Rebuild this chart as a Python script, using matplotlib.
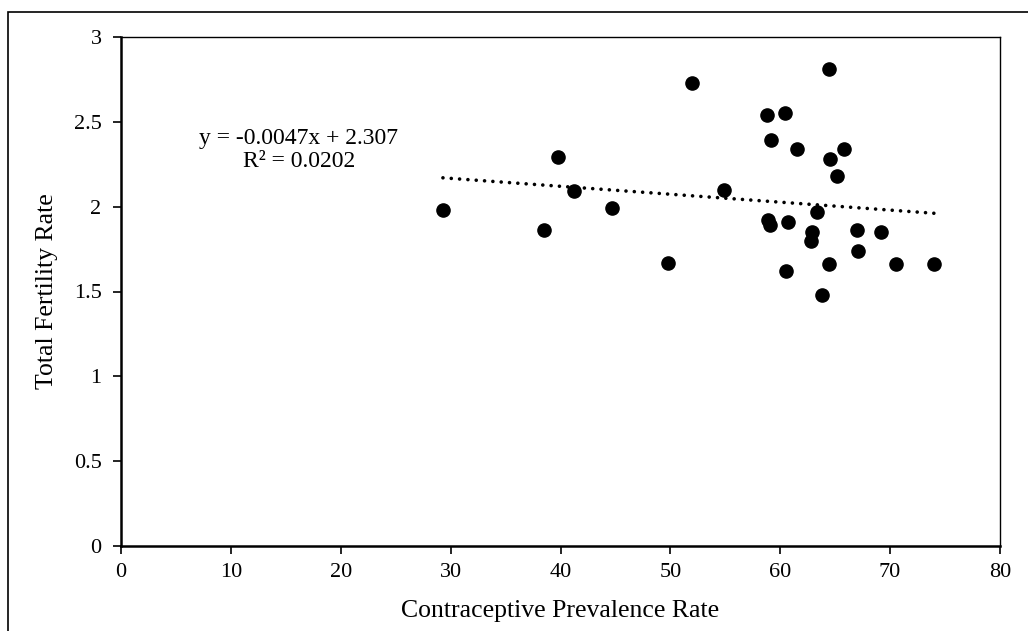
import numpy as np
import matplotlib
matplotlib.use("Agg")
import matplotlib.pyplot as plt
from matplotlib.patches import Rectangle

# contraceptive prevalence rate vs total fertility rate
cpr = [29.3, 39.8, 41.2, 38.5, 44.7, 49.8, 52.0, 54.9,
       64.4, 58.8, 60.4, 59.2, 61.5, 65.8, 64.5, 65.2,
       63.3, 58.9, 59.1, 60.7, 62.9, 62.8, 67.0, 69.2,
       67.1, 64.4, 70.5, 74.0, 60.5, 63.8]
tfr = [1.98, 2.29, 2.09, 1.86, 1.99, 1.67, 2.73, 2.10,
       2.81, 2.54, 2.55, 2.39, 2.34, 2.34, 2.28, 2.18,
       1.97, 1.92, 1.89, 1.91, 1.85, 1.80, 1.86, 1.85,
       1.74, 1.66, 1.66, 1.66, 1.62, 1.48]

eq_text = "y = -0.0047x + 2.307\nR² = 0.0202"

plt.rcParams['font.family'] = ['Liberation Serif', 'DejaVu Serif']

fig = plt.figure(figsize=(10.28, 6.31), dpi=100)
ax = fig.add_axes([121/1028, 1 - 546/631, 879/1028, 509/631])

ax.scatter(cpr, tfr, s=90, color='black', zorder=3)

# linear trendline over the data range
k, b = np.polyfit(cpr, tfr, 1)
xs = np.array([min(cpr), max(cpr)])
ax.plot(xs, k * xs + b, color='black', lw=2.6,
        linestyle=(0, (0.01, 2.3)), dash_capstyle='round', zorder=2)

ax.text(16.2, 2.335, eq_text, ha='center', va='center', fontsize=17, linespacing=1.15)

ax.set_xlim(0, 80)
ax.set_ylim(0, 3)
ax.set_xticks(range(0, 81, 10))
ax.set_yticks([0, 0.5, 1, 1.5, 2, 2.5, 3])
ax.set_yticklabels(['0', '0.5', '1', '1.5', '2', '2.5', '3'])
ax.tick_params(direction='out', length=5.5, width=1.2, labelsize=16)
ax.tick_params(axis='y', pad=8.5)
ax.tick_params(axis='x', pad=7)

for s in ['top', 'right']:
    ax.spines[s].set_linewidth(1.0)
for s in ['left', 'bottom']:
    ax.spines[s].set_linewidth(1.8)

ax.set_xlabel('Contraceptive Prevalence Rate', fontsize=18.5, va='center')
ax.set_ylabel('Total Fertility Rate', fontsize=18.5, va='center')
ax.xaxis.set_label_coords(0.5, (546 - 611) / 509)
ax.yaxis.set_label_coords((47 - 121) / 879, 0.5)

# outer chart-area border
fig.patches.append(Rectangle((8/1028, -0.1), 1.2, 1 - 12/631 + 0.1,
                             transform=fig.transFigure, fill=False,
                             edgecolor='black', lw=1.2))

fig.savefig('out.png', dpi=100)
